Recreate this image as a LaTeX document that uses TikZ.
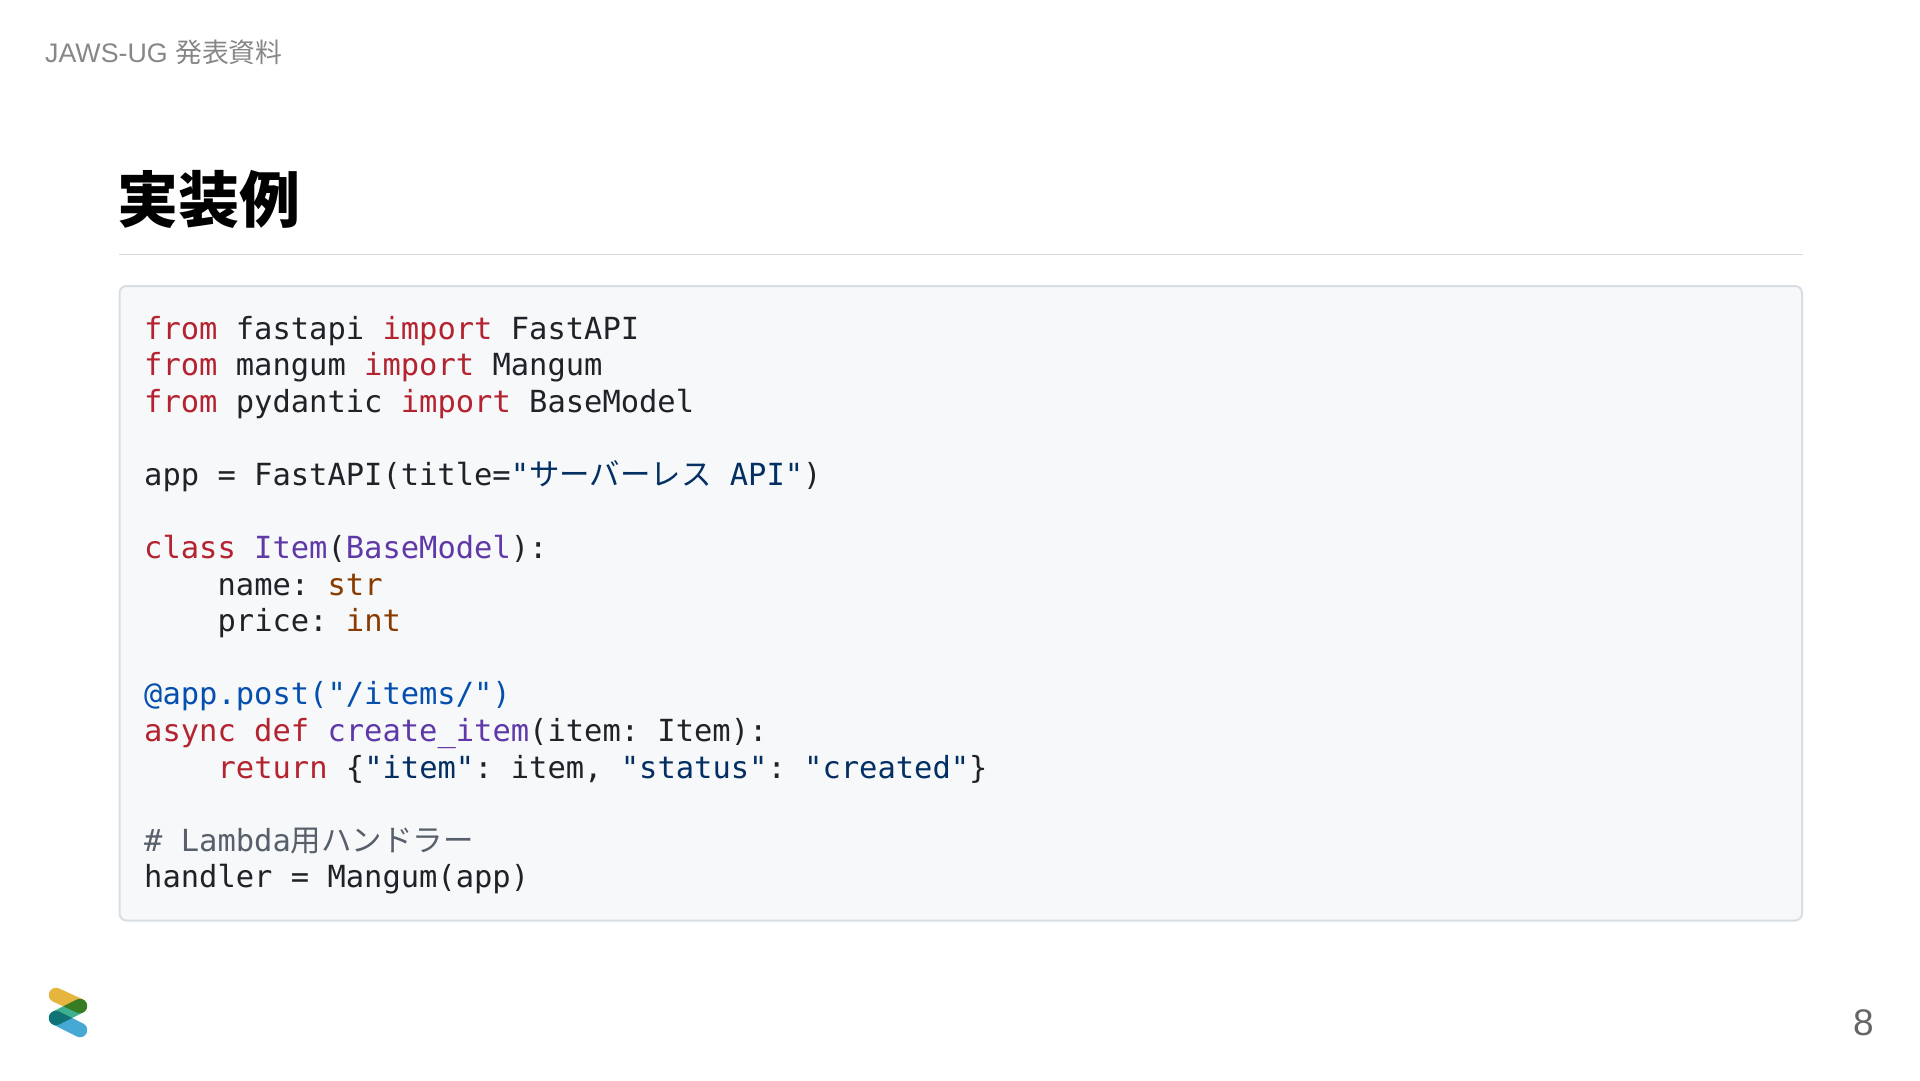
\documentclass[tikz,border=0pt]{standalone}
\usepackage{fontspec}
\usepackage{xcolor}
\usetikzlibrary{positioning}

\setmainfont{Liberation Sans}
\newfontfamily\jpfont{Noto Sans CJK JP}
\newfontfamily\codefont{DejaVu Sans Mono}

\definecolor{kwred}{HTML}{B4232F}
\definecolor{strblue}{HTML}{032F62}
\definecolor{clspurple}{HTML}{6039A8}
\definecolor{typebrown}{HTML}{8A3C00}
\definecolor{decoblue}{HTML}{0550AE}
\definecolor{cmtgray}{HTML}{57606A}
\definecolor{codeink}{HTML}{1F2328}
\definecolor{codebox}{HTML}{D8DEE4}
\definecolor{codebg}{HTML}{F6F8FA}
\definecolor{logoyellow}{HTML}{E5B53F}
\definecolor{logoteal}{HTML}{3DB08F}
\definecolor{logoblue}{HTML}{45A9D3}

\newcommand{\kw}[1]{\textcolor{kwred}{#1}}
\newcommand{\strg}[1]{\textcolor{strblue}{#1}}
\newcommand{\cls}[1]{\textcolor{clspurple}{#1}}
\newcommand{\typ}[1]{\textcolor{typebrown}{#1}}
\newcommand{\deco}[1]{\textcolor{decoblue}{#1}}
\newcommand{\cmt}[1]{\textcolor{cmtgray}{#1}}
% full width glyphs inside the code
\newcommand{\jp}[1]{{\jpfont #1}}
\newcommand{\tb}{\hspace*{73.4pt}}
\frenchspacing

\begin{document}
\begin{tikzpicture}[
	x=1pt, y=-1pt,
	codeline/.style={anchor=base west, inner sep=0pt, font=\fontsize{30.45}{36}\codefont, text=codeink},
	logobar/.style={line width=14.5pt, line cap=round}
	]
	\useasboundingbox (0,0) rectangle (1920,1080);
	\fill[white] (0,0) rectangle (1920,1080);
	
	% ==========================================
	% HEADER & TITLE
	% ==========================================
	\node[anchor=base west, inner sep=0pt, text=black!47, font=\fontsize{26.8}{30}\selectfont] (header) at (45,62) {JAWS-UG \jp{発表資料}};
	\node[anchor=base west, inner sep=0pt, text=black, font=\fontsize{61}{64}\selectfont] (title) at (117,222) {\jpfont\bfseries 実装例};
	\draw[draw=black!15, line width=1.5pt] (119,254.5) -- (1802.5,254.5);
	
	% ==========================================
	% CODE BOX
	% ==========================================
	\draw[draw=codebox, fill=codebg, line width=2pt, rounded corners=7pt] (119.5,286) rectangle (1802,920.5);
	
	\node[codeline] (l1) at (144,339.2) {\kw{from} fastapi \kw{import} FastAPI};
	\node[below=36.57pt of l1.base west, codeline] (l2) {\kw{from} mangum \kw{import} Mangum};
	\node[below=36.57pt of l2.base west, codeline] (l3) {\kw{from} pydantic \kw{import} BaseModel};
	\node[below=73.14pt of l3.base west, codeline] (l4) {app = FastAPI(title=\strg{"\jp{サーバーレス} API"})};
	\node[below=73.14pt of l4.base west, codeline] (l5) {\kw{class} \cls{Item}(\cls{BaseModel}):};
	\node[below=36.57pt of l5.base west, codeline] (l6) {\tb name: \typ{str}};
	\node[below=36.57pt of l6.base west, codeline] (l7) {\tb price: \typ{int}};
	\node[below=73.14pt of l7.base west, codeline] (l8) {\deco{@app.post("/items/")}};
	\node[below=36.57pt of l8.base west, codeline] (l9) {\kw{async} \kw{def} \cls{create\char`_item}(item: Item):};
	\node[below=36.57pt of l9.base west, codeline] (l10) {\tb \kw{return} \{\strg{"item"}: item, \strg{"status"}: \strg{"created"}\}};
	\node[below=73.14pt of l10.base west, codeline] (l11) {\cmt{\# Lambda\jp{用ハンドラー}}};
	\node[below=36.57pt of l11.base west, codeline] (l12) {handler = Mangum(app)};
	
	% ==========================================
	% LOGO & PAGE NUMBER
	% ==========================================
	\begin{scope}[blend group=multiply]
		\draw[logobar, draw=logoyellow] (56,995) -- (80,1006);
		\draw[logobar, draw=logoteal] (80,1006) -- (56,1018);
		\draw[logobar, draw=logoblue] (56,1018) -- (80,1030);
	\end{scope}
	\node[anchor=base east, inner sep=0pt, text=black!60, font=\fontsize{37}{40}\selectfont] (pagenum) at (1874,1035) {8};
\end{tikzpicture}
\end{document}
